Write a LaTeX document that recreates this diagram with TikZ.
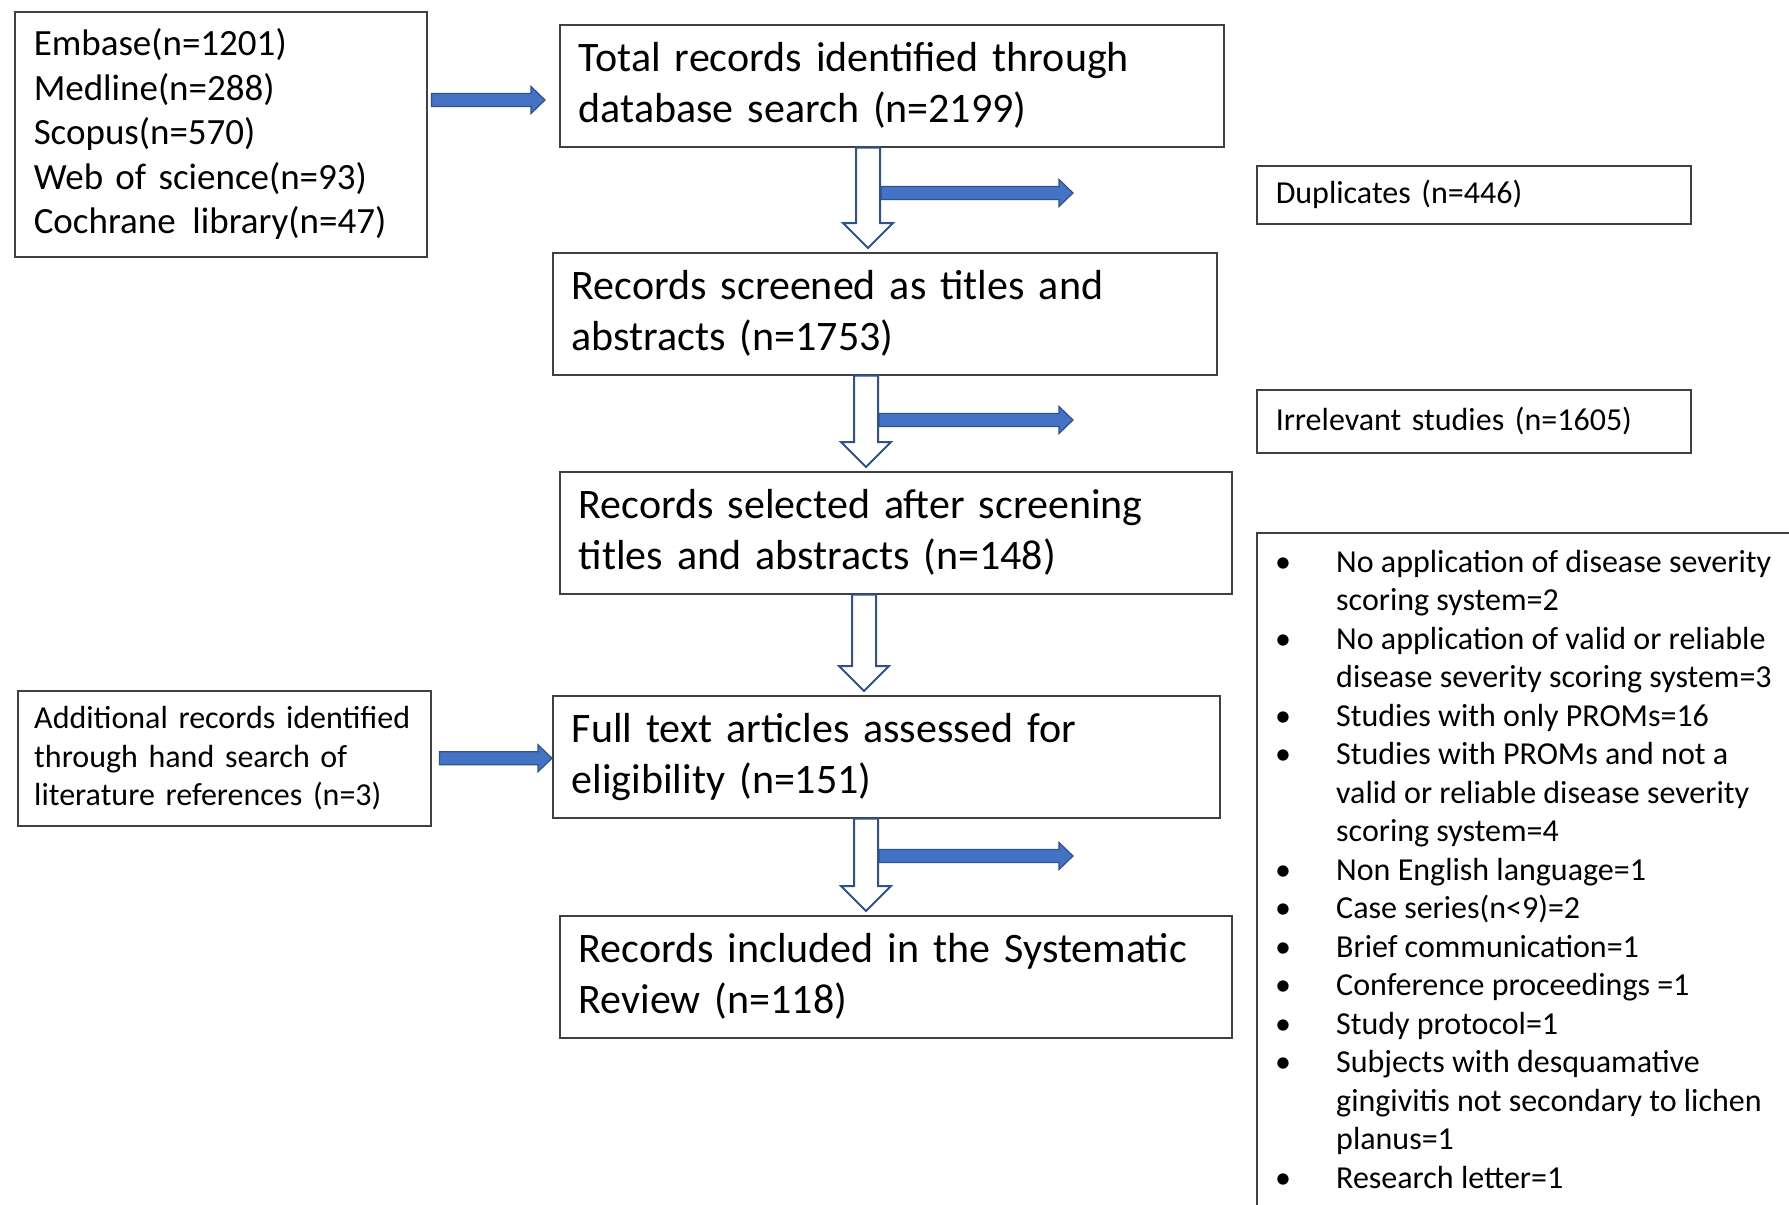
\documentclass[tikz,border=0pt]{standalone}
\usepackage{fontspec}
\setmainfont{Carlito}
\usetikzlibrary{calc}
\definecolor{arrowblue}{HTML}{4472C4}
\definecolor{arrowedge}{HTML}{2F528F}
\definecolor{boxline}{HTML}{404040}
\hyphenpenalty=10000
\exhyphenpenalty=10000
\newcommand{\hollowdown}[2]{%
  \draw[hollowarrow] let \p1=#1, \p2=#2 in
   (\x1-12pt,\y1) -- (\x1+12pt,\y1) -- (\x1+12pt,\y2+29pt) -- (\x1+25pt,\y2+29pt)
   -- (\x1,\y2+4pt) -- (\x1-25pt,\y2+29pt) -- (\x1-12pt,\y2+29pt) -- cycle;}
\newcommand{\blueright}[2]{%
  \draw[bluearrow] let \p1=#1, \p2=#2 in
   (\x1,\y1-6.5pt) -- (\x2-14pt,\y1-6.5pt) -- (\x2-14pt,\y1-13.5pt) -- (\x2,\y1)
   -- (\x2-14pt,\y1+13.5pt) -- (\x2-14pt,\y1+6.5pt) -- (\x1,\y1+6.5pt) -- cycle;}
\begin{document}
\begin{tikzpicture}[x=1pt,y=-1pt,
  box/.style={draw=boxline, line width=1.5pt, rectangle, align=left,
    inner xsep=19pt, inner ysep=0pt, anchor=north west,
    execute at begin node={\hyphenpenalty=10000\relax}},
  bigtext/.style={font=\fontsize{42}{51}\selectfont},
  midtext/.style={font=\fontsize{37}{44.5}\selectfont},
  smalltext/.style={font=\fontsize{32}{38.5}\selectfont},
  hollowarrow/.style={draw=arrowedge, fill=white, line width=2pt, line join=miter},
  bluearrow/.style={draw=arrowedge, fill=arrowblue, line width=1.2pt, line join=miter}]
\clip (0,0) rectangle (1789,1205);
\fill[white] (0,0) rectangle (1789,1205);

% left boxes
\node[box, midtext, minimum width=412, minimum height=245, text width=374] (embase) at (14,11)
 {Embase(n=1201)\\Medline(n=288)\\Scopus(n=570)\\Web of science(n=93)\\Cochrane\hspace{0.45em}library(n=47)};
\node[box, smalltext, minimum width=413, minimum height=135, text width=380, inner xsep=16.5pt] (additional) at (17,690)
 {Additional records identified\\through hand search of\\literature references (n=3)};

% central boxes
\node[box, bigtext, minimum width=664, minimum height=122, text width=626] (total) at (559,24)
 {Total records identified through\\database search (n=2199)};
\node[box, bigtext, minimum width=664, minimum height=122, text width=626] (screened) at (552,252)
 {Records screened as titles and\\abstracts (n=1753)};
\node[box, bigtext, minimum width=672, minimum height=122, text width=634] (selected) at (559,471)
 {Records selected after screening\\titles and abstracts (n=148)};
\node[box, bigtext, minimum width=667, minimum height=122, text width=629] (fulltext) at (552,695)
 {Full text articles assessed for\\eligibility (n=151)};
\node[box, bigtext, minimum width=672, minimum height=122, text width=634] (included) at (559,915)
 {Records included in the Systematic\\Review (n=118)};

% right boxes
\node[box, smalltext, minimum width=434, minimum height=58, text width=396] (dup) at (1256,165)
 {Duplicates (n=446)};
\node[box, smalltext, minimum width=434, minimum height=63, text width=396] (irrel) at (1256,389)
 {Irrelevant studies (n=1605)};
\node[box, minimum width=600, minimum height=720] (excl) at (1256,532) {};
\node[smalltext, anchor=base west, inner sep=0pt] (excltext) at (1265,572)
 {\begin{tabular}[t]{@{}p{71pt}@{}l@{}}
 \hspace{10pt}\textbullet & No application of disease severity\\
  & scoring system=2\\
 \hspace{10pt}\textbullet & No application of valid or reliable\\
  & disease severity scoring system=3\\
 \hspace{10pt}\textbullet & Studies with only PROMs=16\\
 \hspace{10pt}\textbullet & Studies with PROMs and not a\\
  & valid or reliable disease severity\\
  & scoring system=4\\
 \hspace{10pt}\textbullet & Non English language=1\\
 \hspace{10pt}\textbullet & Case series(n<9)=2\\
 \hspace{10pt}\textbullet & Brief communication=1\\
 \hspace{10pt}\textbullet & Conference proceedings =1\\
 \hspace{10pt}\textbullet & Study protocol=1\\
 \hspace{10pt}\textbullet & Subjects with desquamative\\
  & gingivitis not secondary to lichen\\
  & planus=1\\
 \hspace{10pt}\textbullet & Research letter=1
 \end{tabular}};

% helper coordinates
\coordinate (c1) at (868,0);
\coordinate (c2) at (866,0);
\coordinate (c3) at (864,0);
\coordinate (c4) at (866,0);
\coordinate (r1) at (0,100);
\coordinate (s1a) at (881,193);
\coordinate (s1b) at (1073,193);
\coordinate (s2a) at (879,420);
\coordinate (s2b) at (1073,420);
\coordinate (s3a) at (879,856);
\coordinate (s3b) at (1073,856);

% arrows
\blueright{($(embase.east |- r1)+(4,0)$)}{($(total.west |- r1)+(-14,0)$)}
\blueright{($(additional.east)+(8,0)$)}{(fulltext.west)}
\hollowdown{(total.south -| c1)}{(screened.north -| c1)}
\hollowdown{(screened.south -| c2)}{(selected.north -| c2)}
\hollowdown{(selected.south -| c3)}{(fulltext.north -| c3)}
\hollowdown{(fulltext.south -| c4)}{(included.north -| c4)}
\blueright{(s1a)}{(s1b)}
\blueright{(s2a)}{(s2b)}
\blueright{(s3a)}{(s3b)}
\end{tikzpicture}
\end{document}
